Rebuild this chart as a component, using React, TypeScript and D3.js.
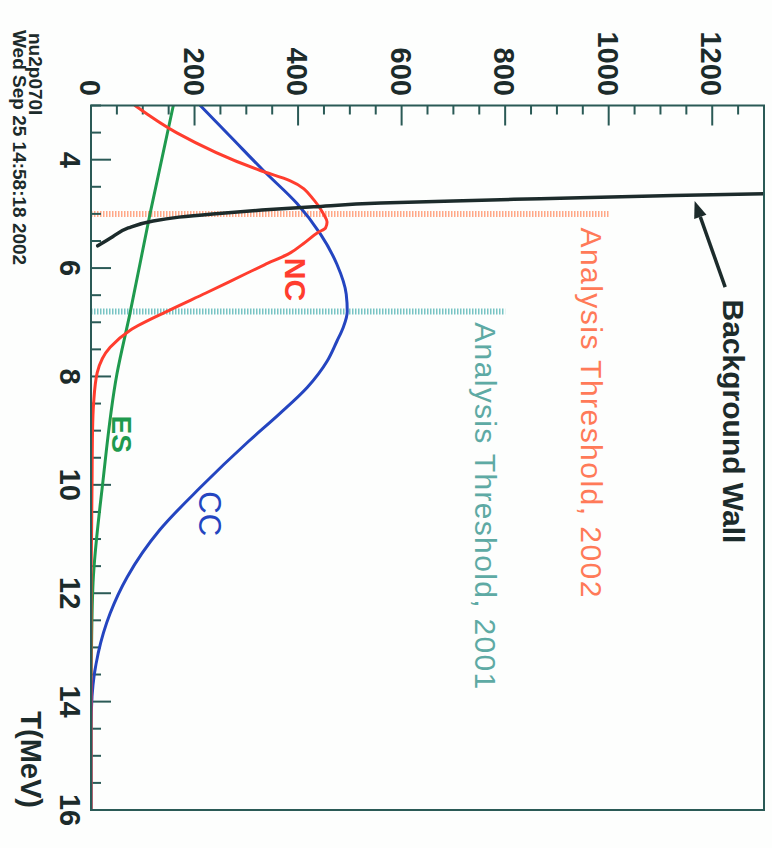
import React from 'react';
import * as d3 from 'd3';

// ---- Data (T in MeV, counts) ----
const countTickLabels = [0, 200, 400, 600, 800, 1000, 1200];
const energyTickLabels = [4, 6, 8, 10, 12, 14, 16];

const ncEnergy = [3.0, 3.5, 4.2, 4.39, 4.76, 5.0, 5.15, 5.26, 5.34, 5.55, 5.72, 5.94, 6.1, 6.46, 6.77, 7.15, 7.46, 7.93, 8.5, 9.0, 10.0, 11.0, 12.0, 14.0, 16.0];
const ncCounts = [85, 165, 327, 385, 432, 449, 456, 453, 439, 410, 385, 335, 300, 222, 153, 75, 37, 12, 5, 3, 2, 1, 0, 0, 0];

const ccEnergy = [3.0, 3.6, 4.2, 4.81, 5.37, 5.93, 6.48, 6.8, 7.1, 7.35, 7.72, 8.2, 8.7, 9.2, 10.05, 10.83, 11.7, 12.37, 13.1, 13.9, 14.5, 16.0];
const ccCounts = [211, 272, 333, 398, 443, 475, 493, 495, 487, 475, 456, 418, 363, 304, 211, 133, 70, 37, 14, 2, 0, 0];

const esEnergy = [3.0, 5.0, 6.85, 7.96, 9.94, 11.8, 13.0, 14.0, 16.0];
const esCounts = [159, 114, 75, 50, 23, 4, 1, 0, 0];

const wallEnergy = [4.63, 4.66, 4.72, 4.76, 4.8, 4.87, 4.93, 5.0, 5.06, 5.13, 5.26, 5.45, 5.59];
const wallCounts = [1300, 1125, 868, 700, 560, 430, 330, 235, 170, 120, 72, 37, 13];

const thresholdEnergy = [5.0, 6.8];
const thresholdExtent = [1000, 800];
const thresholdLabels = ['Analysis Threshold, 2002', 'Analysis Threshold, 2001'];

const FONT = '"Liberation Sans", Arial, Helvetica, sans-serif';
const AXIS = '#2a5a56';
const INK = '#1c2b2b';

function RText(props: { x: number; y: number; anchor?: string; size: number; weight?: string | number; fill: string; children: React.ReactNode; textLength?: number }) {
  const { x, y, anchor = 'start', size, weight = 'bold', fill, children, textLength } = props;
  return (
    <text
      transform={`translate(${x},${y}) rotate(90)`}
      textAnchor={anchor as any}
      fontFamily={FONT}
      fontSize={size}
      fontWeight={weight as any}
      fill={fill}
      {...(textLength ? { textLength, lengthAdjust: 'spacing' } : {})}
    >
      {children}
    </text>
  );
}

export default function App() {
  const W = 772;
  const H = 848;
  const cx = d3.scaleLinear().domain([0, 1300]).range([91, 764]);
  const ty = d3.scaleLinear().domain([3, 16]).range([105.5, 810]);

  const mk = (es: number[], cs: number[]) =>
    d3
      .line<number>()
      .x((i) => cx(cs[i]))
      .y((i) => ty(es[i]))
      .curve(d3.curveMonotoneY)(es.map((_, i) => i)) || '';

  const countMinor = d3.range(0, 1301, 50);
  const energyMinor = d3.range(3, 16.001, 0.5);

  const x0 = cx(0), x1 = cx(1300), y0 = ty(3), y1 = ty(16);

  // annotation anchors (data units)
  const arrowTip = { c: 1166, e: 4.76 };
  const arrowTail = { c: 1225, e: 6.35 };
  const ax = cx(arrowTip.c), ay = ty(arrowTip.e);
  const bx = cx(arrowTail.c), by = ty(arrowTail.e);
  const ang = Math.atan2(by - ay, bx - ax);
  const hl = 17, hw = 6.5;
  const baseX = ax + hl * Math.cos(ang), baseY = ay + hl * Math.sin(ang);
  const head = [
    [ax, ay],
    [baseX + hw * Math.sin(ang), baseY - hw * Math.cos(ang)],
    [baseX - hw * Math.sin(ang), baseY + hw * Math.cos(ang)],
  ];

  return (
    <svg width={W} height={H} style={{ position: 'absolute', left: 0, top: 0, background: '#fff' }}>
      <rect x={0} y={0} width={W} height={H} fill="#fdfefd" />
      <defs>
        <clipPath id="plot">
          <rect x={x0} y={y0} width={x1 - x0} height={y1 - y0} />
        </clipPath>
      </defs>

      {/* thresholds */}
      {thresholdEnergy.map((e, i) => (
        <line
          key={'th' + i}
          x1={cx(0)}
          x2={cx(thresholdExtent[i])}
          y1={ty(e)}
          y2={ty(e)}
          stroke={i === 0 ? '#ffa888' : '#78c4c4'}
          strokeWidth={6}
          strokeDasharray="1.5 1.5"
        />
      ))}

      {/* ticks */}
      {countMinor.map((v) => (
        <line key={'ct' + v} x1={cx(v)} x2={cx(v)} y1={y0} y2={y0 + (v % 200 === 0 ? 20 : 9)} stroke={AXIS} strokeWidth={2} />
      ))}
      {energyMinor.map((v) => (
        <line key={'et' + v} x1={x0} x2={x0 + (Math.abs(v % 2) < 1e-6 ? 20 : 10)} y1={ty(v)} y2={ty(v)} stroke={AXIS} strokeWidth={2} />
      ))}

      {/* curves */}
      <g clipPath="url(#plot)" fill="none" strokeLinejoin="round" strokeLinecap="round">
        <path d={mk(esEnergy, esCounts)} stroke="#1f9a4e" strokeWidth={3} />
        <path d={mk(ccEnergy, ccCounts)} stroke="#2445c0" strokeWidth={3} />
        <path d={mk(ncEnergy, ncCounts)} stroke="#ff3d2e" strokeWidth={3} />
        <path d={mk(wallEnergy, wallCounts)} stroke={INK} strokeWidth={3.5} />
      </g>

      {/* frame */}
      <rect x={x0} y={y0} width={x1 - x0} height={y1 - y0} fill="none" stroke={AXIS} strokeWidth={2} />

      {/* tick labels */}
      {countTickLabels.map((v) => (
        <RText key={'cl' + v} x={cx(v) - 11} y={96} anchor="end" size={29} fill={INK}>
          {v}
        </RText>
      ))}
      {energyTickLabels.map((v) => (
        <RText key={'el' + v} x={60} y={ty(v)} anchor="middle" size={29} fill={INK}>
          {v}
        </RText>
      ))}
      <RText x={21} y={808} anchor="end" size={29} fill={INK}>
        T(MeV)
      </RText>

      {/* stamp */}
      <RText x={29} y={33} size={19} fill={INK}>nu2p070l</RText>
      <RText x={13} y={30} size={19} fill={INK}>Wed Sep 25 14:58:18 2002</RText>

      {/* series labels */}
      <RText x={cx(375)} y={ty(5.81)} size={30} fill="#ff3d2e">NC</RText>
      <RText x={cx(208)} y={ty(10.12)} size={31} weight="normal" fill="#2445c0">CC</RText>
      <RText x={cx(41)} y={ty(8.72)} size={28} fill="#1f9a4e">ES</RText>

      {/* threshold labels */}
      <RText x={cx(947)} y={ty(5.25)} size={30} weight="normal" fill="#ff7a58" textLength={370}>
        {thresholdLabels[0]}
      </RText>
      <RText x={cx(742)} y={ty(7.0)} size={30} weight="normal" fill="#5eaaa4" textLength={367}>
        {thresholdLabels[1]}
      </RText>

      {/* background wall annotation */}
      <line x1={bx} y1={by} x2={baseX} y2={baseY} stroke={INK} strokeWidth={3.5} />
      <polygon points={head.map((p) => p.join(',')).join(' ')} fill={INK} />
      <RText x={cx(1220)} y={ty(6.58)} size={30} fill={INK}>Background Wall</RText>
    </svg>
  );
}
